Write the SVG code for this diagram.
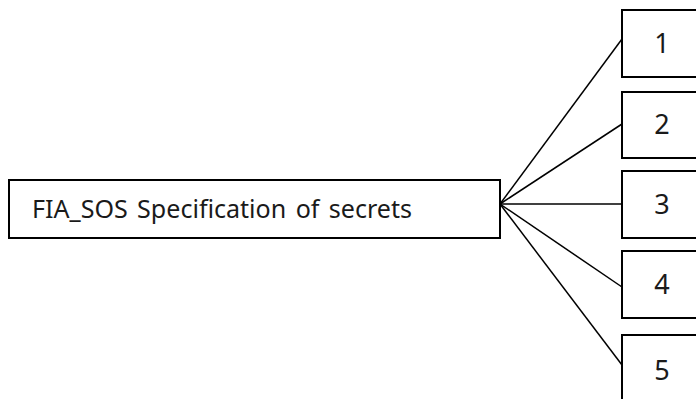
<svg xmlns="http://www.w3.org/2000/svg" width="696" height="399" viewBox="0 0 696 399">
  <style>
    .box { fill: #ffffff; stroke: #000000; stroke-width: 2; }
    .wire { stroke: #000000; stroke-width: 1.5; fill: none; }
    .label { font-family: "Noto Sans", "Open Sans", sans-serif; font-size: 26px; fill: #1a1a1a; word-spacing: 3px; }
    .num { font-family: "Noto Sans", "Open Sans", sans-serif; font-size: 27px; fill: #1a1a1a; text-anchor: middle; }
  </style>
  <rect width="696" height="399" fill="#ffffff"/>

  <!-- fan-out links from the requirement box to the numbered items -->
  <g id="connectors">
    <line class="wire" x1="500" y1="204" x2="622" y2="39"/>
    <line class="wire" x1="500" y1="204" x2="622" y2="124"/>
    <line class="wire" x1="500" y1="204" x2="622" y2="204"/>
    <line class="wire" x1="500" y1="204" x2="622" y2="287"/>
    <line class="wire" x1="500" y1="204" x2="622" y2="365"/>
  </g>

  <g id="fia-sos">
    <rect class="box" x="9" y="180" width="491" height="58"/>
    <text class="label" x="32" y="218" textLength="380" lengthAdjust="spacingAndGlyphs">FIA_SOS Specification of secrets</text>
  </g>

  <g id="item-1">
    <rect class="box" x="622" y="10" width="82" height="67"/>
    <text class="num" x="662" y="53">1</text>
  </g>
  <g id="item-2">
    <rect class="box" x="622" y="92" width="82" height="66"/>
    <text class="num" x="662" y="134">2</text>
  </g>
  <g id="item-3">
    <rect class="box" x="622" y="171" width="82" height="67"/>
    <text class="num" x="662" y="214">3</text>
  </g>
  <g id="item-4">
    <rect class="box" x="622" y="251" width="82" height="67"/>
    <text class="num" x="662" y="294">4</text>
  </g>
  <g id="item-5">
    <rect class="box" x="622" y="335" width="82" height="80"/>
    <text class="num" x="662" y="380">5</text>
  </g>
</svg>
